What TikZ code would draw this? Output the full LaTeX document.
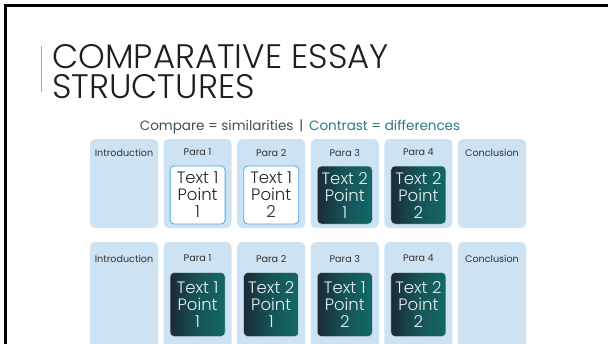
\documentclass[tikz,border=0pt]{standalone}
\usepackage{fontspec}
\setmainfont{Poppins}
\newfontfamily\thinfont{Poppins}[UprightFont=* Light]
\definecolor{colbg}{RGB}{205,226,243}
\definecolor{sameblue}{RGB}{70,175,225}
\definecolor{diffdark}{RGB}{27,42,54}
\definecolor{diffmid}{RGB}{22,84,88}
\definecolor{diffteal}{RGB}{19,104,103}
\definecolor{headgray}{RGB}{50,50,50}
\definecolor{subgray}{RGB}{62,78,86}
\definecolor{subteal}{RGB}{44,124,124}
\definecolor{accentblue}{RGB}{95,190,230}

\begin{document}
\begin{tikzpicture}
    [x=1pt, y=-1pt,
    node distance=73.6pt,
    col/.style={fill=colbg, rounded corners=5pt, minimum width=68pt, minimum height=89pt, inner sep=0pt},
    col2/.style={col, minimum height=110pt},
    head/.style={anchor=north, inner sep=0pt, yshift=#1, font=\fontsize{9.6}{11}\selectfont, text=headgray},
    head/.default=-10pt,
    pointbox/.style={rounded corners=4pt, minimum width=55pt, inner sep=0pt, align=center, font=\thinfont\fontsize{16.5}{17}\selectfont},
    same/.style={pointbox, minimum height=58pt, fill=white, draw=sameblue, line width=0.8pt, text=black!85},
    diff/.style={pointbox, minimum height=58pt, draw=white!75!diffteal, line width=0.5pt, left color=diffdark, right color=diffteal, middle color=diffmid, text=white!90!diffteal},
    diff2/.style={diff, minimum height=64pt},
    titletext/.style={anchor=base west, inner sep=0pt, align=left, font=\thinfont\fontsize{34}{30}\selectfont, text=black!88}]
        \clip (0,0) rectangle (608,343);
        \fill[white] (0,0) rectangle (608,343);
        %% slide frame and heading
        \draw[line width=3pt] (5,350) -- (5,5) -- (615,5);
        \draw[accentblue, line width=1pt] (41,46) -- (41,92);
        \node[titletext] (title) at (52,98) {COMPARATIVE ESSAY\\STRUCTURES};
        \node[font=\fontsize{13.5}{15}\selectfont, text=subgray] (sub) at (300,127)
            {Compare = similarities \,|\, \textcolor{subteal}{Contrast = differences}};

        %% first structure
        \node[col, label={[head]north:Introduction}] (I1) at (124,183.5) {};
        \node[col, right of = I1, label={[head]north:Para 1}] (P11) {};
        \node[col, right of = P11, label={[head]north:Para 2}] (P12) {};
        \node[col, right of = P12, label={[head]north:Para 3}] (P13) {};
        \node[col, right of = P13, label={[head]north:Para 4}] (P14) {};
        \node[col, right of = P14, label={[head]north:Conclusion}] (C1) {};

        \node[same] (T11) at ([yshift=-11.5pt]P11.center) {Text 1\\Point\\1};
        \node[same] (T12) at ([yshift=-11.5pt]P12.center) {Text 1\\Point\\2};
        \node[diff] (T13) at ([yshift=-11.5pt]P13.center) {Text 2\\Point\\1};
        \node[diff] (T14) at ([yshift=-11.5pt]P14.center) {Text 2\\Point\\2};

        %% second structure
        \node[col2, label={[head=-13pt]north:Introduction}] (I2) at (124,297) {};
        \node[col2, right of = I2, label={[head=-13pt]north:Para 1}] (P21) {};
        \node[col2, right of = P21, label={[head=-13pt]north:Para 2}] (P22) {};
        \node[col2, right of = P22, label={[head=-13pt]north:Para 3}] (P23) {};
        \node[col2, right of = P23, label={[head=-13pt]north:Para 4}] (P24) {};
        \node[col2, right of = P24, label={[head=-13pt]north:Conclusion}] (C2) {};

        \node[diff2] (T21) at ([yshift=-7.5pt]P21.center) {Text 1\\Point\\1};
        \node[diff2] (T22) at ([yshift=-7.5pt]P22.center) {Text 2\\Point\\1};
        \node[diff2] (T23) at ([yshift=-7.5pt]P23.center) {Text 1\\Point\\2};
        \node[diff2] (T24) at ([yshift=-7.5pt]P24.center) {Text 2\\Point\\2};
    \end{tikzpicture}
\end{document}
